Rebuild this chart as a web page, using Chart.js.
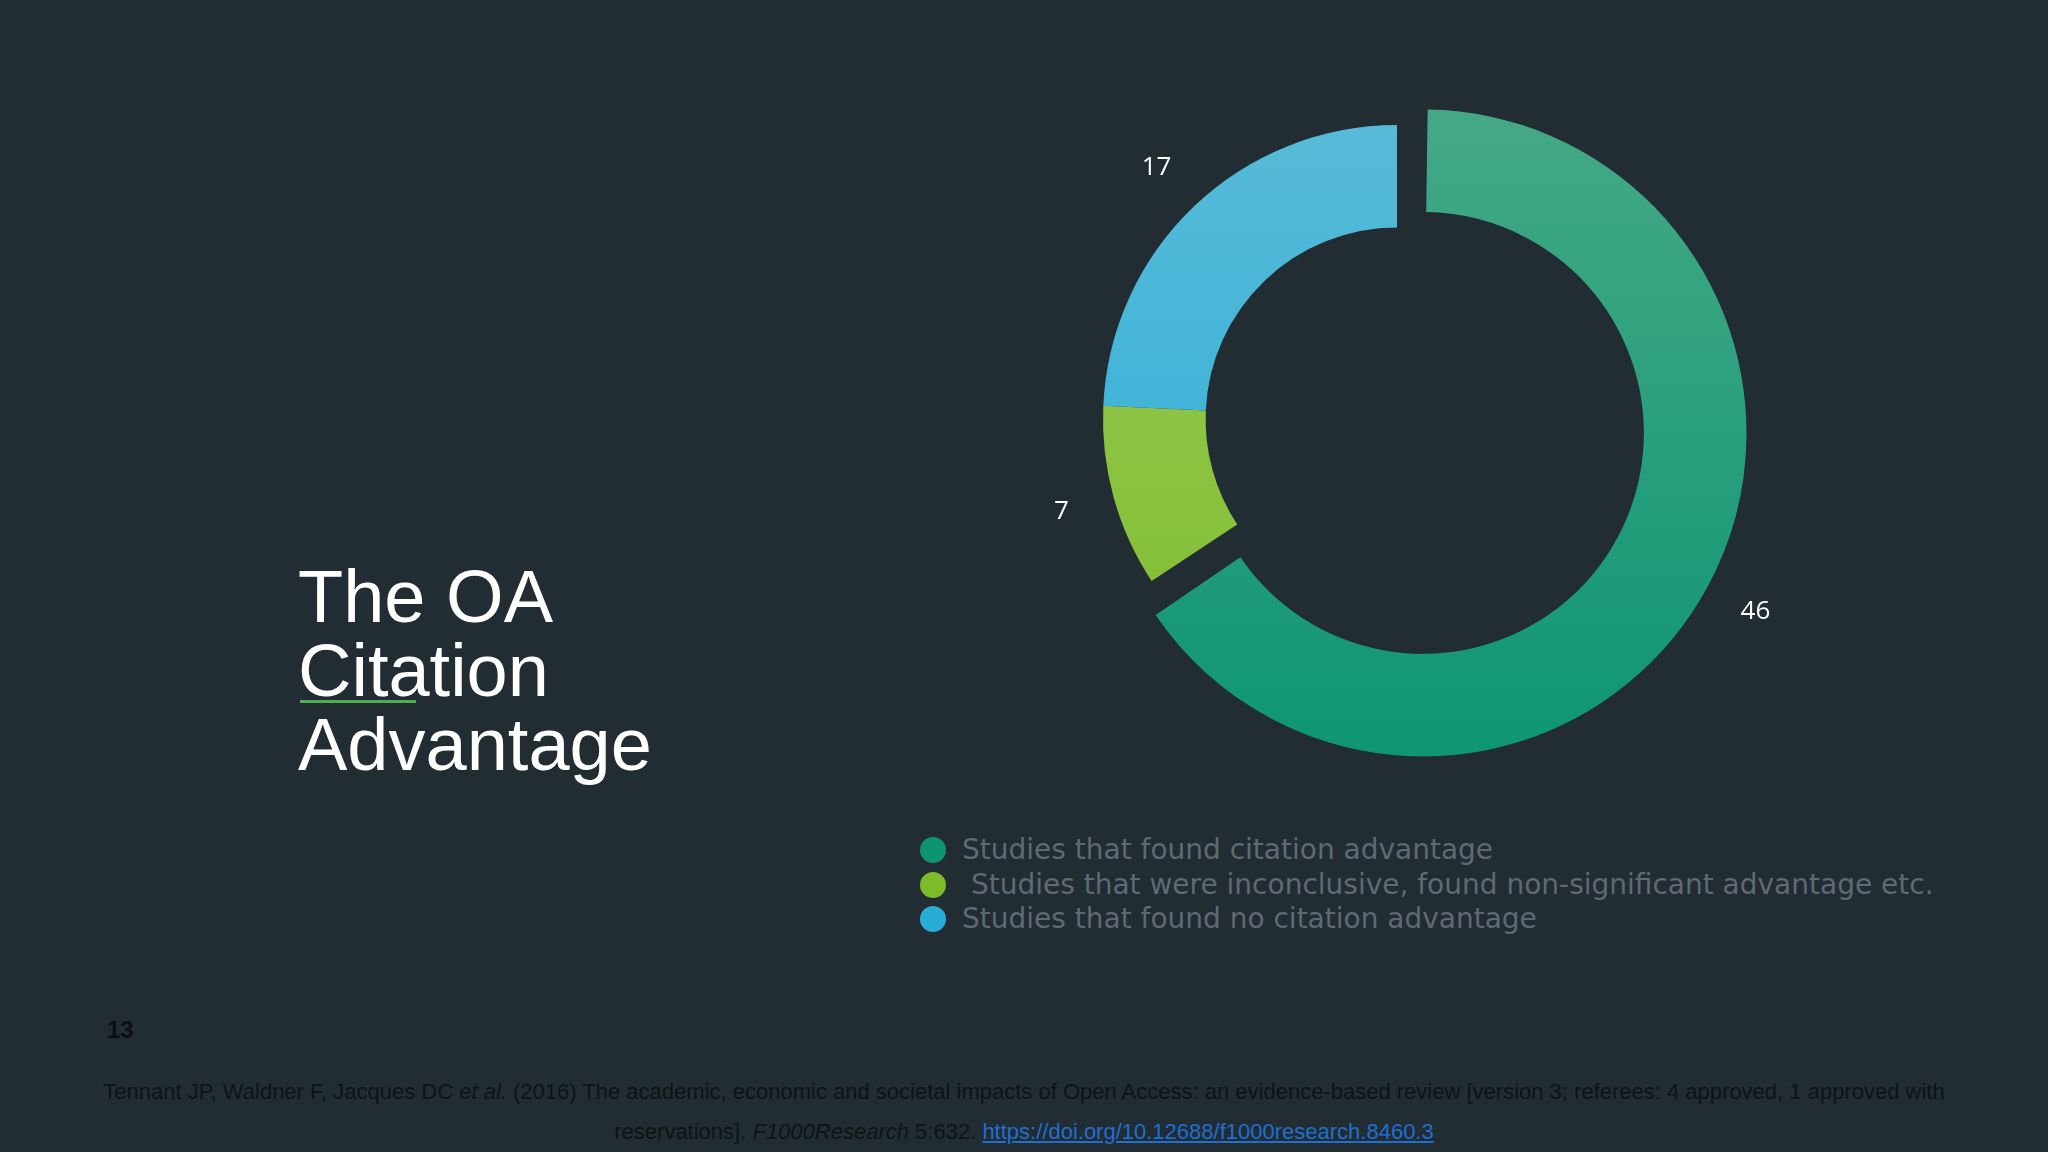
<!DOCTYPE html>
<html>
<head>
<meta charset="utf-8">
<script src="https://cdn.jsdelivr.net/npm/chart.js@4/dist/chart.umd.min.js"></script>
<style>
  body { margin: 0; width: 2048px; height: 1152px; background: #222c33; overflow: hidden; position: relative; font-family: "Liberation Sans", Arial, sans-serif; }
  #wrap { position: absolute; left: 997px; top: 19px; width: 800px; height: 800px; }
  .title { position: absolute; left: 298px; top: 560px; color: #fff; font-size: 74px; line-height: 74px; }
  .squiggle { position: absolute; left: 300px; top: 700px; width: 116px; height: 3px; background: #4caf50; }
  .legend { position: absolute; left: 920px; top: 833px; font-family: "DejaVu Sans", sans-serif; font-size: 28px; color: #5e6a73; }
  .legend div { height: 34.5px; line-height: 34px; white-space: pre; }
  .legend span { display: inline-block; width: 26px; height: 26px; border-radius: 50%; vertical-align: -4px; margin-right: 16px; }
  .page { position: absolute; left: 107px; top: 1016px; font-weight: bold; font-size: 24px; color: #0c0f11; }
  .cite { position: absolute; left: 0; width: 2048px; text-align: center; top: 1072px; font-size: 22px; line-height: 40px; color: #0e1316; }
  .cite a { color: #1f6fd1; }
</style>
</head>
<body>
<div class="title">The OA<br>Citation<br>Advantage</div>
<div class="squiggle"></div>
<div id="wrap"><canvas id="c"></canvas></div>
<div class="legend" id="legend"></div>
<div class="page">13</div>
<div class="cite">Tennant JP, Waldner F, Jacques DC <i>et al.</i> (2016) The academic, economic and societal impacts of Open Access: an evidence-based review [version 3; referees: 4 approved, 1 approved with<br>reservations]. <i>F1000Research</i> 5:632. <a href="#">https://doi.org/10.12688/f1000research.8460.3</a></div>
<script>
const categories = [
  'Studies that found citation advantage',
  ' Studies that were inconclusive, found non-significant advantage etc.',
  'Studies that found no citation advantage'
];
const counts = [46, 7, 17];
const topColors = ['#46a987', '#9fcc5e', '#5bbbd8'];
const bottomColors = ['#0d9571', '#7cbb2a', '#27add8'];
const offsets = [118, 0, 0];

const legend = document.getElementById('legend');
categories.forEach((name, i) => {
  const row = document.createElement('div');
  row.innerHTML = '<span style="background:' + bottomColors[i] + '"></span>' + name;
  legend.appendChild(row);
});

const labelPlugin = {
  id: 'arcLabels',
  afterDatasetsDraw(chart) {
    const ctx = chart.ctx;
    const meta = chart.getDatasetMeta(0);
    ctx.save();
    ctx.fillStyle = '#ffffff';
    ctx.font = '26px "Open Sans", sans-serif';
    ctx.textAlign = 'center';
    ctx.textBaseline = 'middle';
    meta.data.forEach((arc, i) => {
      const mid = (arc.startAngle + arc.endAngle) / 2;
      const circ = arc.endAngle - arc.startAngle;
      const off = offsets[i] / 4;
      const shift = off * (1 + 1 - Math.sin(Math.min(Math.PI, circ)));
      const r = 348 + shift;
      ctx.fillText(String(counts[i]), arc.x + Math.cos(mid) * r, arc.y + Math.sin(mid) * r);
    });
    ctx.restore();
  }
};

new Chart(document.getElementById('c'), {
  type: 'doughnut',
  data: {
    labels: categories,
    datasets: [{
      data: counts,
      offset: offsets,
      borderWidth: 0,
      backgroundColor(context) {
        const area = context.chart.chartArea;
        if (!area) return bottomColors[context.dataIndex];
        const g = context.chart.ctx.createLinearGradient(0, 60, 0, 740);
        g.addColorStop(0, topColors[context.dataIndex]);
        g.addColorStop(1, bottomColors[context.dataIndex]);
        return g;
      }
    }]
  },
  options: {
    responsive: true,
    maintainAspectRatio: false,
    animation: false,
    radius: 294,
    cutout: 222,
    plugins: { legend: { display: false }, tooltip: { enabled: false } }
  },
  plugins: [labelPlugin]
});
</script>
</body>
</html>
